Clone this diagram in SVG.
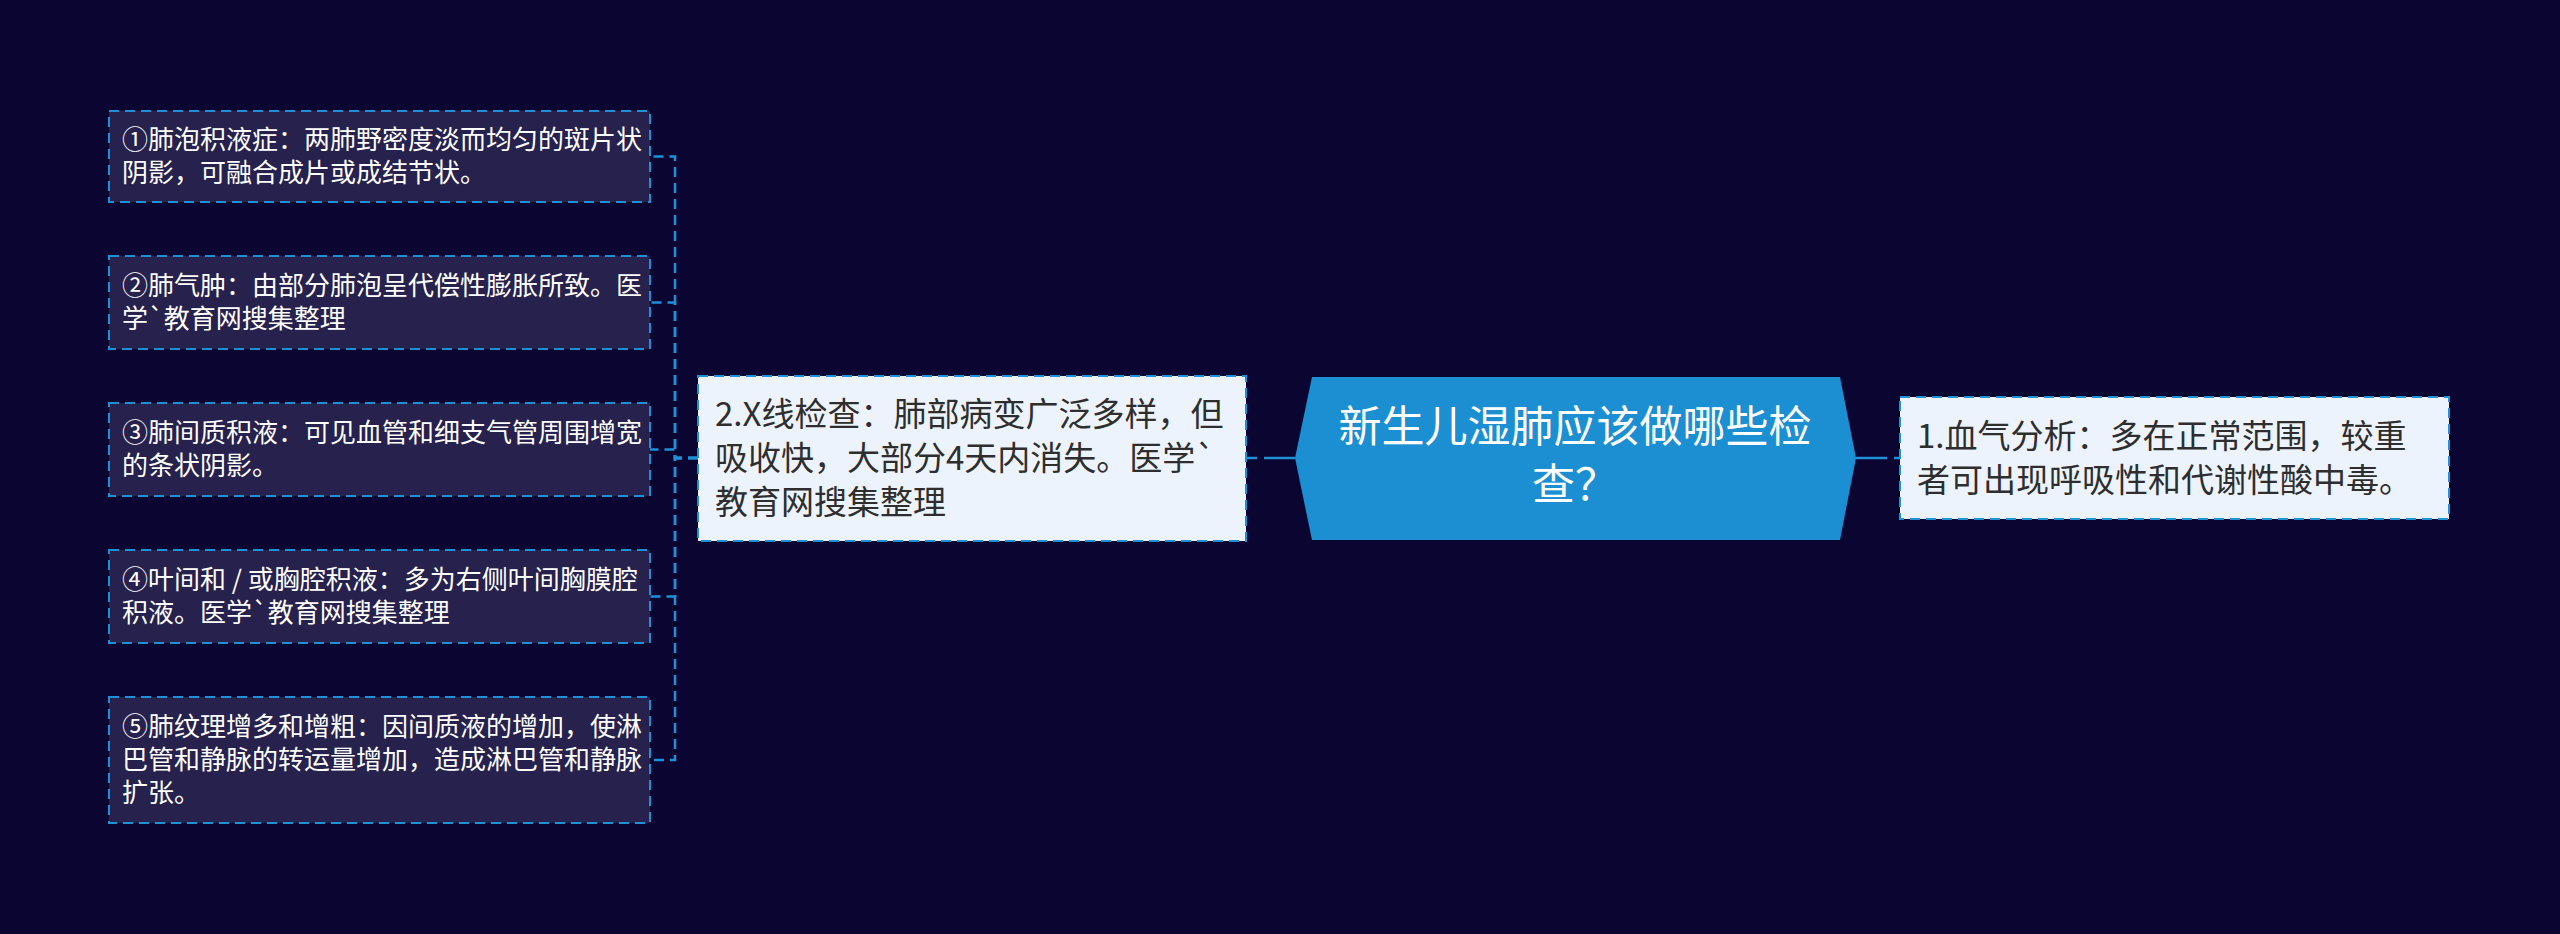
<svg xmlns="http://www.w3.org/2000/svg" width="2560" height="934" viewBox="0 0 2560 934">
<style>
.bg{fill:#0b0631}
.leaf rect{fill:#26214d;stroke:#1f8fd6;stroke-width:2;stroke-dasharray:10 6}
.leaf text{font-family:"Noto Sans CJK SC","Noto Sans",sans-serif;font-size:26px;fill:#ffffff}
.l1 rect{fill:#edf3fc;stroke:#1f8fd6;stroke-width:2;stroke-dasharray:10 6}
.l1 text{font-family:"Noto Sans CJK SC","Noto Sans",sans-serif;font-size:33px;fill:#2e2e2e}
.root path{fill:#1b8fd2}
.root text{font-family:"Noto Sans CJK SC","Noto Sans",sans-serif;font-size:43px;fill:#ffffff;text-anchor:middle}
.conn path{fill:none;stroke:#1f8fd6;stroke-width:2.5;stroke-dasharray:10 6}
.conn path.main{stroke-dasharray:31 7}
</style>
<rect class="bg" x="0" y="0" width="2560" height="934"/>
<g id="connectors" class="conn">
<path class="main" d="M1856,458 H1900"/>
<path class="main" d="M1295,458 H1246"/>
<path d="M698,458 H675 V156.5 H650"/>
<path d="M698,458 H675 V302.5 H650"/>
<path d="M698,458 H675 V449.5 H650"/>
<path d="M698,458 H675 V596.5 H650"/>
<path d="M698,458 H675 V760 H650"/>
</g>
<g id="root" class="root">
<path d="M1295,458 L1312,377 L1840,377 L1856,458 L1840,540 L1312,540 Z"/>
<text x="1575" y="442">新生儿湿肺应该做哪些检</text>
<text x="1575" y="500">查？</text>
</g>
<g id="node1" class="l1">
<rect x="1900" y="397" width="549" height="122"/>
<text x="1917" y="448">1.血气分析：多在正常范围，较重</text>
<text x="1917" y="492">者可出现呼吸性和代谢性酸中毒。</text>
</g>
<g id="node2" class="l1">
<rect x="698" y="376" width="548" height="165"/>
<text x="715" y="426">2.X线检查：肺部病变广泛多样，但</text>
<text x="715" y="470">吸收快，大部分4天内消失。医学`</text>
<text x="715" y="514">教育网搜集整理</text>
</g>
<g id="leaf1" class="leaf">
<rect x="109" y="111" width="541" height="91"/>
<text x="122" y="149">①肺泡积液症：两肺野密度淡而均匀的斑片状</text>
<text x="122" y="182">阴影，可融合成片或成结节状。</text>
</g>
<g id="leaf2" class="leaf">
<rect x="109" y="256" width="541" height="93"/>
<text x="122" y="295">②肺气肿：由部分肺泡呈代偿性膨胀所致。医</text>
<text x="122" y="328">学`教育网搜集整理</text>
</g>
<g id="leaf3" class="leaf">
<rect x="109" y="403" width="541" height="93"/>
<text x="122" y="442">③肺间质积液：可见血管和细支气管周围增宽</text>
<text x="122" y="475">的条状阴影。</text>
</g>
<g id="leaf4" class="leaf">
<rect x="109" y="550" width="541" height="93"/>
<text x="122" y="589">④叶间和 / 或胸腔积液：多为右侧叶间胸膜腔</text>
<text x="122" y="622">积液。医学`教育网搜集整理</text>
</g>
<g id="leaf5" class="leaf">
<rect x="109" y="697" width="541" height="126"/>
<text x="122" y="736">⑤肺纹理增多和增粗：因间质液的增加，使淋</text>
<text x="122" y="769">巴管和静脉的转运量增加，造成淋巴管和静脉</text>
<text x="122" y="802">扩张。</text>
</g>
</svg>
